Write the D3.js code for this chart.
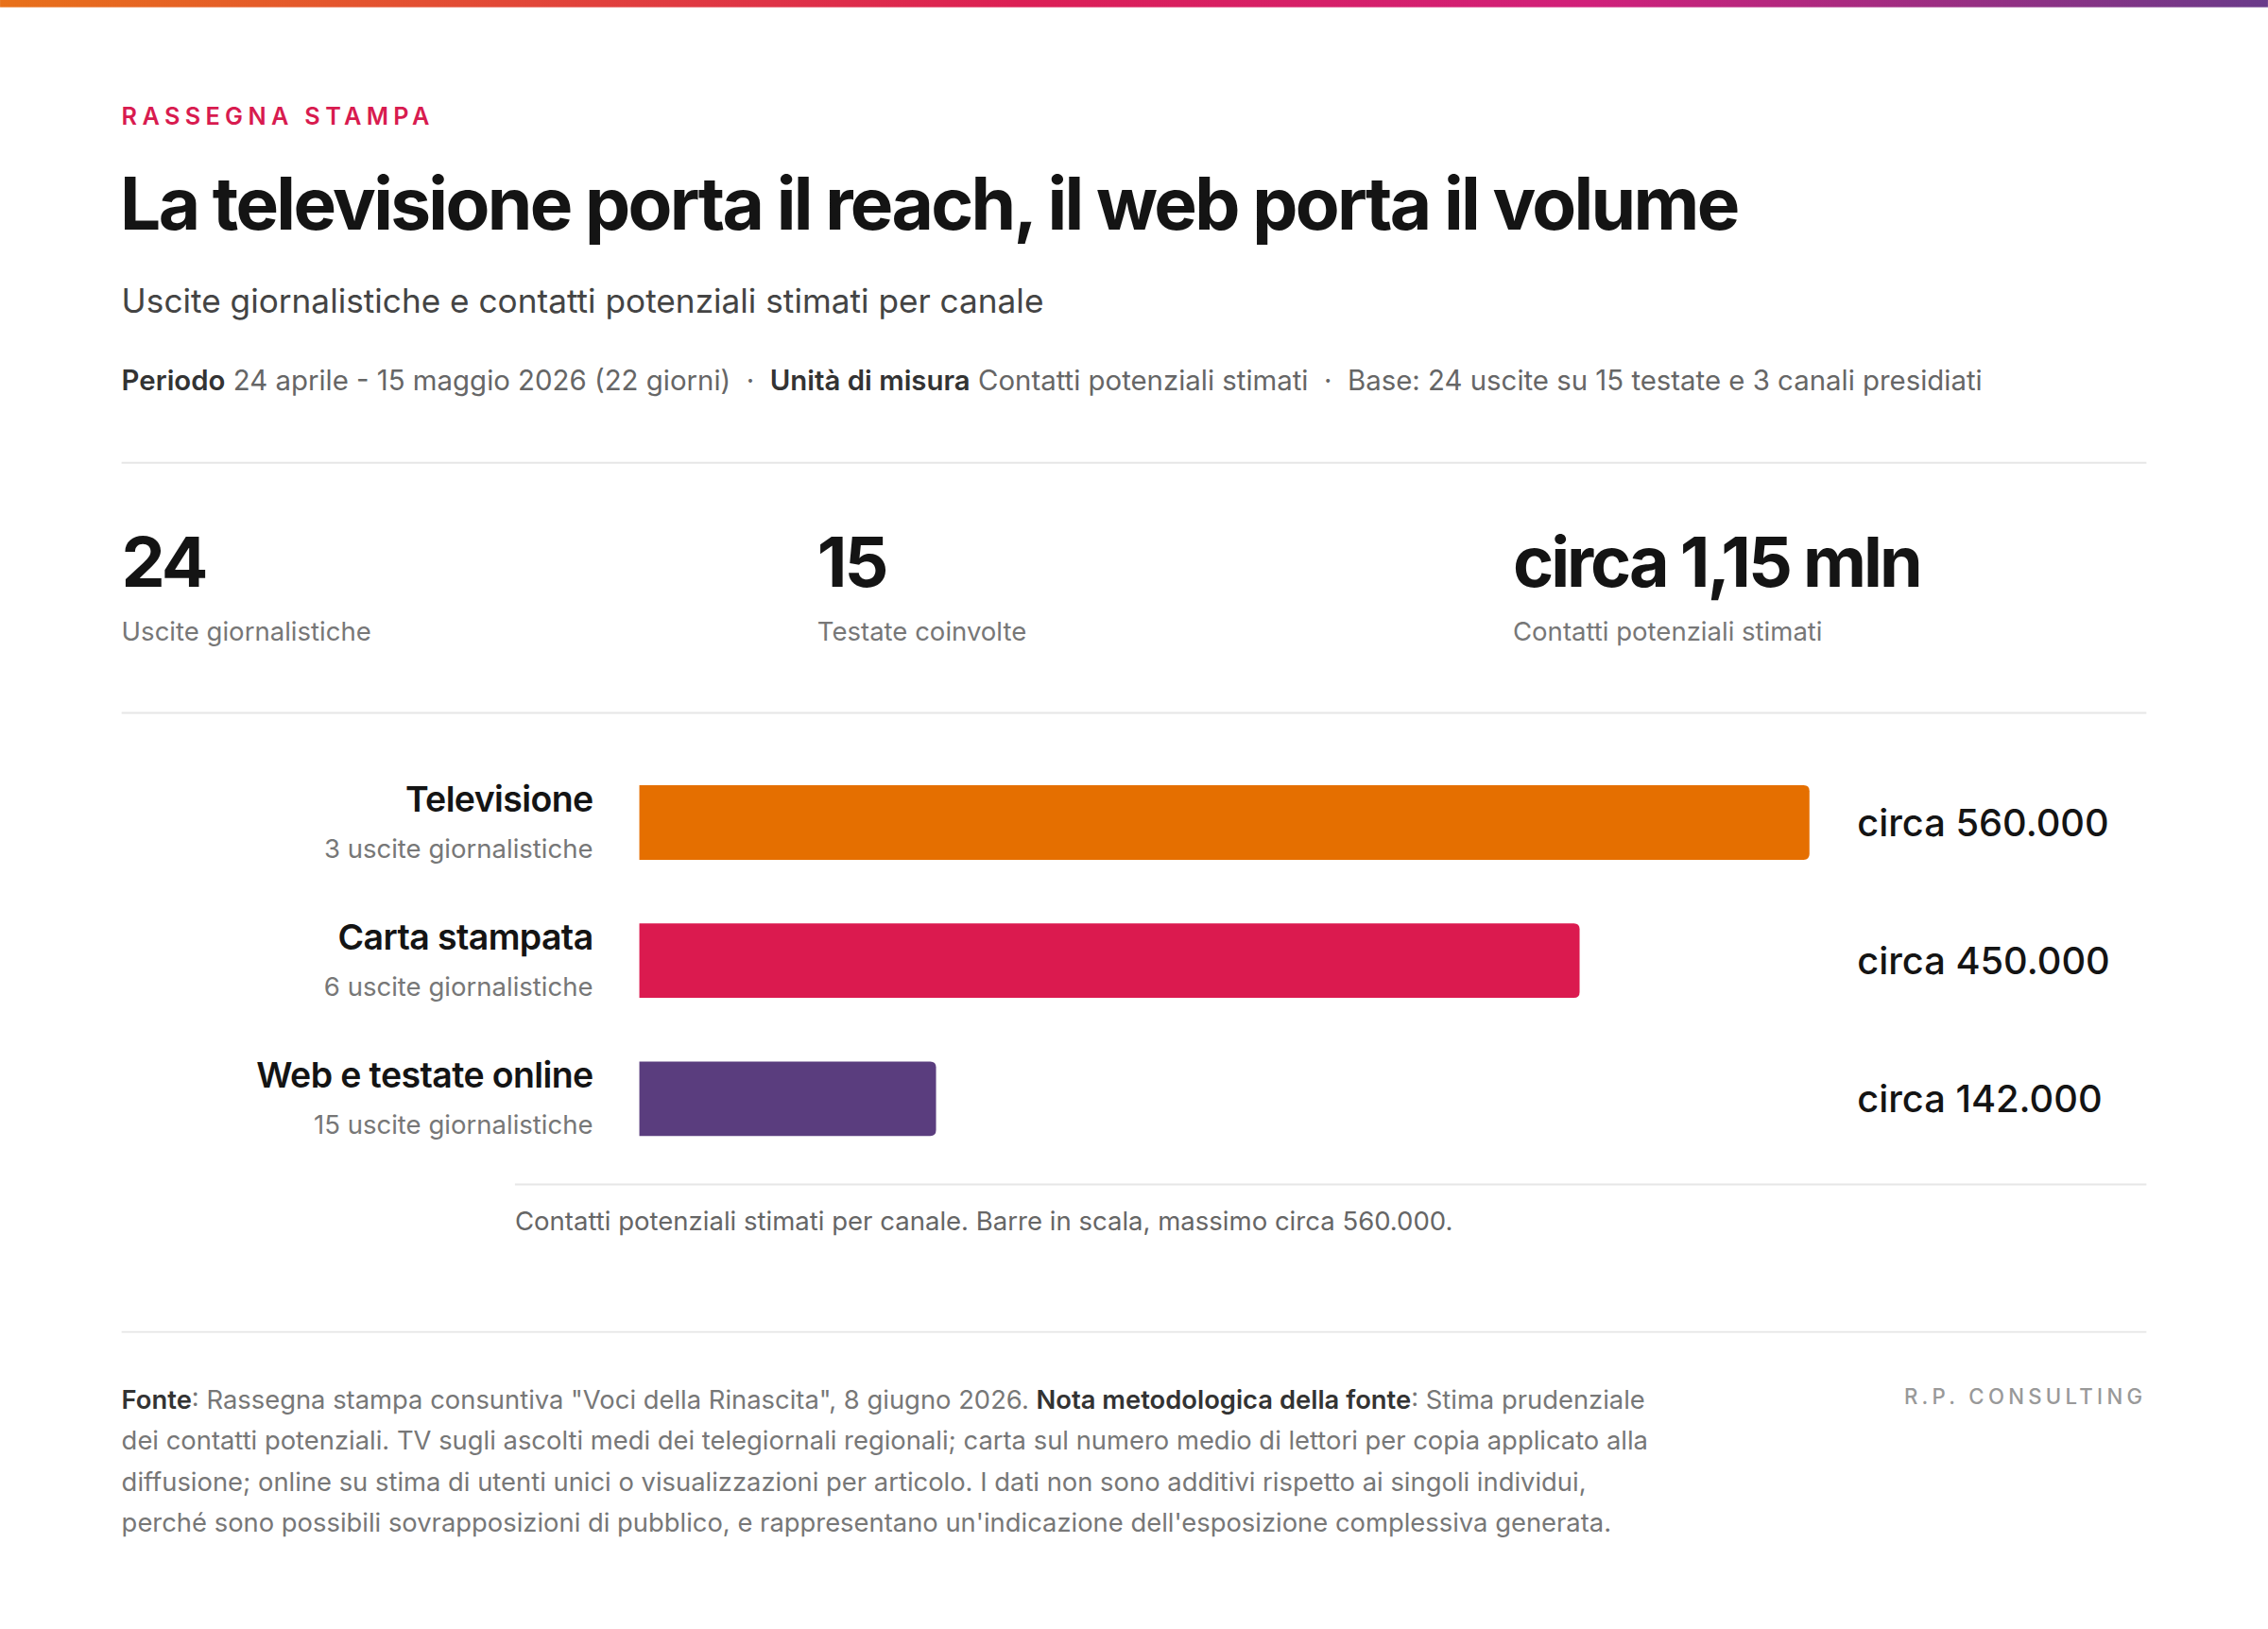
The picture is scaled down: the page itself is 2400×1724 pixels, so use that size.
<!DOCTYPE html>
<html><head><meta charset="utf-8">
<script src="https://cdn.jsdelivr.net/npm/d3@7"></script>
<style>html,body{margin:0;padding:0;background:#fff}svg{display:block;font-family:Inter,"Noto Sans",sans-serif}</style>
</head><body>
<script>
const channels = ["Televisione","Carta stampata","Web e testate online"];
const outputs = ["3 uscite giornalistiche","6 uscite giornalistiche","15 uscite giornalistiche"];
const contacts = [560000,450000,142000];
const valueLabels = ["circa 560.000","circa 450.000","circa 142.000"];
const colors = ["#e56f00","#db1a4f","#5a3d7e"];
const kpiValues = ["24","15","circa 1,15 mln"];
const kpiLabels = ["Uscite giornalistiche","Testate coinvolte","Contatti potenziali stimati"];
const footLines = [
 [["Fonte",1],[": Rassegna stampa consuntiva \"Voci della Rinascita\", 8 giugno 2026. ",0],["Nota metodologica della fonte",1],[": Stima prudenziale",0]],
 [["dei contatti potenziali. TV sugli ascolti medi dei telegiornali regionali; carta sul numero medio di lettori per copia applicato alla",0]],
 [["diffusione; online su stima di utenti unici o visualizzazioni per articolo. I dati non sono additivi rispetto ai singoli individui,",0]],
 [["perché sono possibili sovrapposizioni di pubblico, e rappresentano un'indicazione dell'esposizione complessiva generata.",0]]
];

const svg = d3.select("body").append("svg").attr("width",2400).attr("height",1724).attr("viewBox","0 0 1568 1126.4");
const defs = svg.append("defs");
const g = defs.append("linearGradient").attr("id","tg");
[["0%","#e8711a"],["45%","#dc1f55"],["70%","#d1207a"],["100%","#6a3b8a"]].forEach(s=>g.append("stop").attr("offset",s[0]).attr("stop-color",s[1]));
svg.append("rect").attr("x",0).attr("y",0).attr("width",1568).attr("height",5).attr("fill","url(#tg)");

svg.append("text").attr("x",84).attr("y",86).attr("font-size",16.5).attr("font-weight",600).attr("letter-spacing",3.5).attr("fill","#d81b4f").text("RASSEGNA STAMPA");
svg.append("text").attr("x",83).attr("y",159).attr("font-size",50).attr("font-weight",700).attr("letter-spacing",-1.75).attr("fill","#141414").text("La televisione porta il reach, il web porta il volume");
svg.append("text").attr("x",84).attr("y",216).attr("font-size",23).attr("fill","#444").text("Uscite giornalistiche e contatti potenziali stimati per canale");
const meta = svg.append("text").attr("x",84).attr("y",270).attr("font-size",19.2).attr("fill","#666").attr("xml:space","preserve");
[["Periodo",1],[" 24 aprile - 15 maggio 2026 (22 giorni)  ·  ",0],["Unità di misura",1],[" Contatti potenziali stimati  ·  Base: 24 uscite su 15 testate e 3 canali presidiati",0]]
 .forEach(p=>meta.append("tspan").attr("font-weight",p[1]?600:400).attr("fill",p[1]?"#333":"#666").text(p[0]));

const line=(x1,x2,y)=>svg.append("line").attr("x1",x1).attr("x2",x2).attr("y1",y).attr("y2",y).attr("stroke","#e6e6e6").attr("stroke-width",1.3);
line(84,1484,320); line(84,1484,493); line(356,1484,819); line(84,1484,921);

const kx=[84,565,1046];
kpiValues.forEach((v,i)=>{
 svg.append("text").attr("x",kx[i]).attr("y",406).attr("font-size",48).attr("font-weight",700).attr("letter-spacing",-2).attr("fill","#141414").text(v);
 svg.append("text").attr("x",kx[i]).attr("y",443).attr("font-size",18).attr("fill","#777").text(kpiLabels[i]);
});

const x = d3.scaleLinear().domain([0,560000]).range([442,1251]);
const yb = d3.scaleLinear().domain([0,2]).range([543,734]);
channels.forEach((c,i)=>{
 const top=yb(i);
 svg.append("path").attr("fill",colors[i]).attr("d",(()=>{const x0=x(0),x1=x(contacts[i]),r=4,h=51.5;return `M${x0},${top}H${x1-r}Q${x1},${top} ${x1},${top+r}V${top+h-r}Q${x1},${top+h} ${x1-r},${top+h}H${x0}Z`;})());
 svg.append("text").attr("x",410).attr("y",top+18).attr("text-anchor","end").attr("font-size",24.5).attr("font-weight",600).attr("letter-spacing",-0.4).attr("fill","#141414").text(c);
 svg.append("text").attr("x",410).attr("y",top+50).attr("text-anchor","end").attr("font-size",18).attr("fill","#777").text(outputs[i]);
 svg.append("text").attr("x",1284).attr("y",top+35).attr("font-size",26).attr("font-weight",500).attr("fill","#141414").text(valueLabels[i]);
});
svg.append("text").attr("x",356).attr("y",851).attr("font-size",18).attr("fill","#666").text("Contatti potenziali stimati per canale. Barre in scala, massimo circa 560.000.");

footLines.forEach((ln,i)=>{
 const t=svg.append("text").attr("x",84).attr("y",974+i*28.4).attr("font-size",17.9).attr("fill","#777").attr("xml:space","preserve");
 ln.forEach(p=>t.append("tspan").attr("font-weight",p[1]?600:400).attr("fill",p[1]?"#333":"#777").text(p[0]));
});
svg.append("text").attr("x",1484).attr("y",971).attr("text-anchor","end").attr("font-size",14.5).attr("font-weight",500).attr("letter-spacing",2.8).attr("fill","#999").text("R.P. CONSULTING");
</script>
</body></html>
